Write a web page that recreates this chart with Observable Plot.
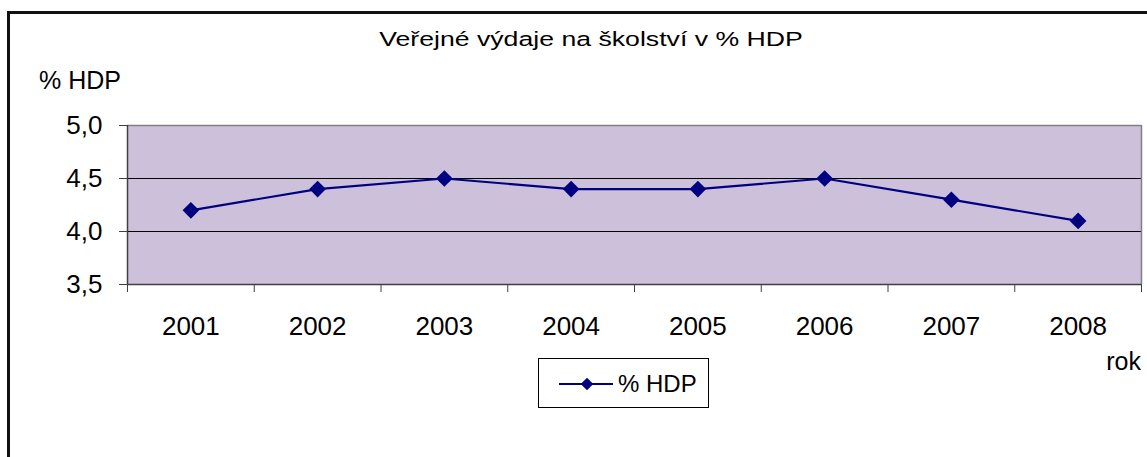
<!DOCTYPE html>
<html>
<head>
<meta charset="utf-8">
<script src="https://cdn.jsdelivr.net/npm/d3@7"></script>
<script src="https://cdn.jsdelivr.net/npm/@observablehq/plot@0.6"></script>
<style>
  html, body { margin: 0; padding: 0; background: #fff; overflow: hidden; }
  body { width: 1147px; height: 457px; position: relative; font-family: "Liberation Sans", Arial, sans-serif; color: #000; }
  #chart { position: absolute; left: 0; top: 0; }
  .lbl { position: absolute; line-height: 1; white-space: nowrap; }
  #frame { position: absolute; left: 7px; top: 11px; width: 1300px; height: 700px; border: 3px solid #111; box-sizing: border-box; pointer-events: none; }
  #title { left: 591px; top: 29px; font-size: 20.5px; transform: translateX(-50%) scaleX(1.3); }
  #ylab { left: 39px; top: 68px; font-size: 25px; }
  #xlab { right: 6px; top: 349px; font-size: 25px; }
  #legend { position: absolute; left: 538px; top: 358px; width: 171px; height: 50px; border: 1px solid #000; box-sizing: border-box; background: #fff; }
  #legend svg { position: absolute; left: 0; top: 0; }
  #legend .lt { position: absolute; left: 79px; top: 13px; font-size: 24px; line-height: 1; white-space: nowrap; }
</style>
</head>
<body>
<div id="chart"></div>
<div id="frame"></div>
<div class="lbl" id="title">Veřejné výdaje na školství v % HDP</div>
<div class="lbl" id="ylab">% HDP</div>
<div class="lbl" id="xlab">rok</div>
<div id="legend"></div>
<script>
const years = [2001, 2002, 2003, 2004, 2005, 2006, 2007, 2008];
const values = [4.2, 4.4, 4.5, 4.4, 4.4, 4.5, 4.3, 4.1];
const yTicks = [3.5, 4.0, 4.5, 5.0];
const gridValues = [4.0, 4.5];
const seriesName = "% HDP";

const data = years.map((y, i) => ({year: y, value: values[i]}));
const boundaries = [...years.map(y => y - 0.5), years[years.length - 1] + 0.5];
const xDomain = [boundaries[0], boundaries[boundaries.length - 1]];
const navy = "#000080";

const chart = Plot.plot({
  width: 1147,
  height: 457,
  marginLeft: 127,
  marginRight: 6,
  marginTop: 125,
  marginBottom: 173,
  style: {fontFamily: "'Liberation Sans', Arial, sans-serif", fontSize: "26px", color: "#000", background: "transparent"},
  x: {domain: xDomain, axis: null},
  y: {domain: [yTicks[0], yTicks[yTicks.length - 1]], axis: null},
  marks: [
    Plot.frame({fill: "#CCC0DA", stroke: null}),
    Plot.ruleY(gridValues, {stroke: "#000", strokeWidth: 1}),
    Plot.ruleY([yTicks[yTicks.length - 1]], {stroke: "#808080", strokeWidth: 1.5}),
    Plot.ruleX([xDomain[1]], {stroke: "#808080", strokeWidth: 1.5}),
    Plot.ruleX([xDomain[0]], {stroke: "#404040", strokeWidth: 1.5}),
    Plot.ruleY([yTicks[0]], {stroke: "#404040", strokeWidth: 1.5}),
    Plot.axisY({ticks: yTicks, tickSize: 8, tickPadding: 17, stroke: "#404040", tickFormat: d => d.toFixed(1).replace(".", ","), label: null, fontSize: 26}),
    Plot.axisX({ticks: boundaries, tickSize: 8, stroke: "#404040", tickFormat: () => "", label: null}),
    Plot.axisX({ticks: years, tickSize: 0, tickPadding: 32, tickFormat: d => String(d), label: null, fontSize: 26}),
    Plot.line(data, {x: "year", y: "value", stroke: navy, strokeWidth: 2.2}),
    Plot.dot(data, {x: "year", y: "value", symbol: d3.symbolDiamond2, r: 7.5, fill: navy, stroke: null})
  ]
});
document.getElementById("chart").appendChild(chart);

// legend
const leg = d3.select("#legend");
const ls = leg.append("svg").attr("width", 171).attr("height", 50);
ls.append("line").attr("x1", 20).attr("x2", 74).attr("y1", 25).attr("y2", 25).attr("stroke", navy).attr("stroke-width", 2.2);
ls.append("path").attr("d", d3.symbol(d3.symbolDiamond2, 100)()).attr("transform", "translate(48,25)").attr("fill", navy);
leg.append("div").attr("class", "lt").text(seriesName);
</script>
</body>
</html>
